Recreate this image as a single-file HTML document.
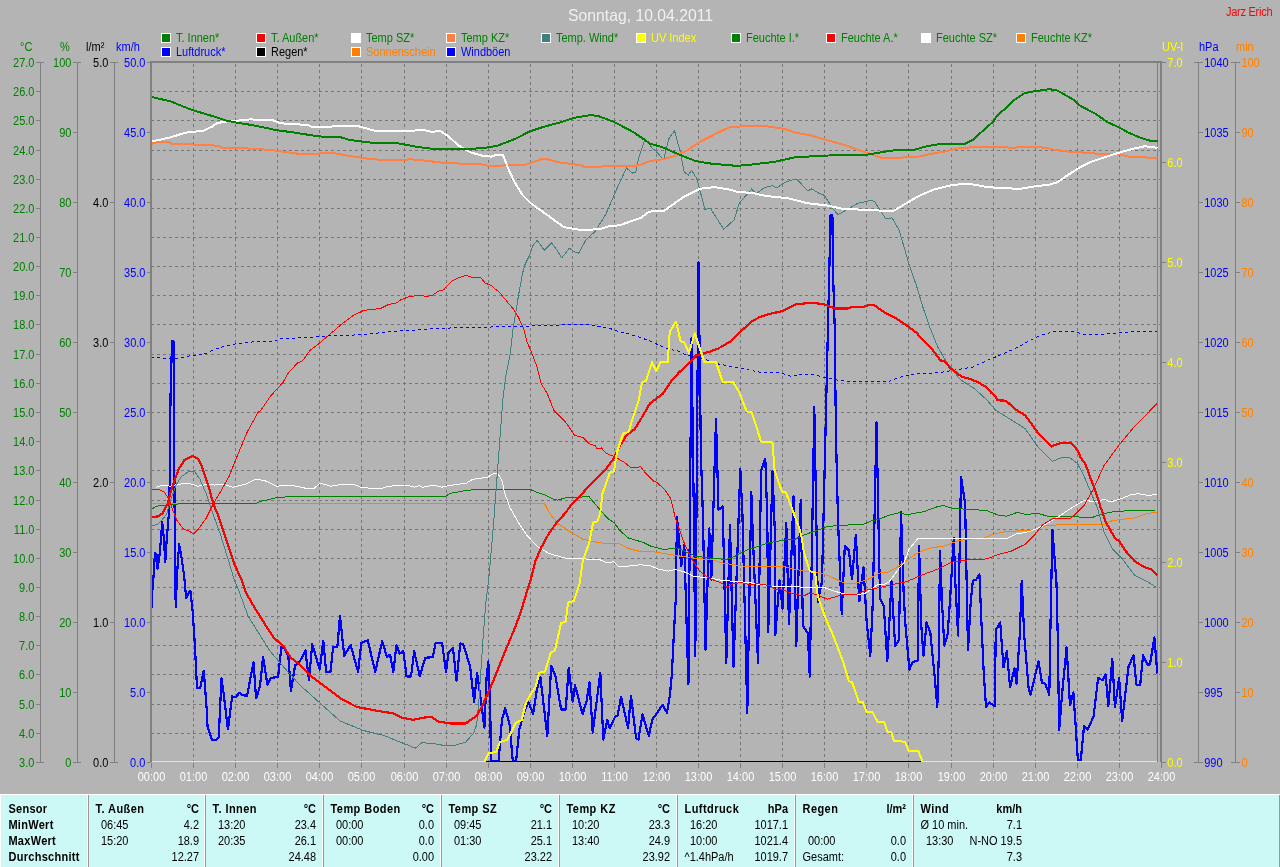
<!DOCTYPE html>
<html><head><meta charset="utf-8"><title>Wetter 10.04.2011</title>
<style>
html,body{margin:0;padding:0;}
body{width:1280px;height:867px;overflow:hidden;background:#b4b4b4;position:relative;font-family:'Liberation Sans', Arial, sans-serif;}
#chart{position:absolute;left:0;top:0;}
#tab{position:absolute;left:0;top:794px;width:1280px;height:73px;}
</style></head><body>
<svg id="chart" width="1280" height="794" viewBox="0 0 1280 794"><rect x="40" y="62" width="1" height="701" fill="#808080"/><rect x="77" y="62" width="1" height="701" fill="#808080"/><rect x="114" y="62" width="1" height="701" fill="#808080"/><rect x="1198" y="62" width="1" height="701" fill="#808080"/><rect x="1235" y="62" width="1" height="701" fill="#808080"/><rect x="36" y="62" width="8" height="1" fill="#808080"/><rect x="36" y="91" width="5" height="1" fill="#808080"/><rect x="36" y="120" width="5" height="1" fill="#808080"/><rect x="36" y="150" width="5" height="1" fill="#808080"/><rect x="36" y="179" width="5" height="1" fill="#808080"/><rect x="36" y="208" width="5" height="1" fill="#808080"/><rect x="36" y="237" width="5" height="1" fill="#808080"/><rect x="36" y="266" width="5" height="1" fill="#808080"/><rect x="36" y="295" width="5" height="1" fill="#808080"/><rect x="36" y="324" width="5" height="1" fill="#808080"/><rect x="36" y="354" width="5" height="1" fill="#808080"/><rect x="36" y="383" width="5" height="1" fill="#808080"/><rect x="36" y="412" width="5" height="1" fill="#808080"/><rect x="36" y="441" width="5" height="1" fill="#808080"/><rect x="36" y="470" width="5" height="1" fill="#808080"/><rect x="36" y="500" width="5" height="1" fill="#808080"/><rect x="36" y="529" width="5" height="1" fill="#808080"/><rect x="36" y="558" width="5" height="1" fill="#808080"/><rect x="36" y="587" width="5" height="1" fill="#808080"/><rect x="36" y="616" width="5" height="1" fill="#808080"/><rect x="36" y="645" width="5" height="1" fill="#808080"/><rect x="36" y="674" width="5" height="1" fill="#808080"/><rect x="36" y="704" width="5" height="1" fill="#808080"/><rect x="36" y="733" width="5" height="1" fill="#808080"/><rect x="36" y="762" width="8" height="1" fill="#808080"/><rect x="73" y="62" width="8" height="1" fill="#808080"/><rect x="73" y="132" width="5" height="1" fill="#808080"/><rect x="73" y="202" width="5" height="1" fill="#808080"/><rect x="73" y="272" width="5" height="1" fill="#808080"/><rect x="73" y="342" width="5" height="1" fill="#808080"/><rect x="73" y="412" width="5" height="1" fill="#808080"/><rect x="73" y="482" width="5" height="1" fill="#808080"/><rect x="73" y="552" width="5" height="1" fill="#808080"/><rect x="73" y="622" width="5" height="1" fill="#808080"/><rect x="73" y="692" width="5" height="1" fill="#808080"/><rect x="73" y="762" width="8" height="1" fill="#808080"/><rect x="110" y="62" width="8" height="1" fill="#808080"/><rect x="110" y="202" width="5" height="1" fill="#808080"/><rect x="110" y="342" width="5" height="1" fill="#808080"/><rect x="110" y="482" width="5" height="1" fill="#808080"/><rect x="110" y="622" width="5" height="1" fill="#808080"/><rect x="110" y="762" width="8" height="1" fill="#808080"/><rect x="147" y="62" width="4" height="1" fill="#808080"/><rect x="147" y="132" width="4" height="1" fill="#808080"/><rect x="147" y="202" width="4" height="1" fill="#808080"/><rect x="147" y="272" width="4" height="1" fill="#808080"/><rect x="147" y="342" width="4" height="1" fill="#808080"/><rect x="147" y="412" width="4" height="1" fill="#808080"/><rect x="147" y="482" width="4" height="1" fill="#808080"/><rect x="147" y="552" width="4" height="1" fill="#808080"/><rect x="147" y="622" width="4" height="1" fill="#808080"/><rect x="147" y="692" width="4" height="1" fill="#808080"/><rect x="147" y="762" width="4" height="1" fill="#808080"/><rect x="1161" y="62" width="5" height="1" fill="#808080"/><rect x="1161" y="162" width="5" height="1" fill="#808080"/><rect x="1161" y="262" width="5" height="1" fill="#808080"/><rect x="1161" y="362" width="5" height="1" fill="#808080"/><rect x="1161" y="462" width="5" height="1" fill="#808080"/><rect x="1161" y="562" width="5" height="1" fill="#808080"/><rect x="1161" y="662" width="5" height="1" fill="#808080"/><rect x="1161" y="762" width="5" height="1" fill="#808080"/><rect x="1194" y="62" width="9" height="1" fill="#808080"/><rect x="1198" y="132" width="5" height="1" fill="#808080"/><rect x="1198" y="202" width="5" height="1" fill="#808080"/><rect x="1198" y="272" width="5" height="1" fill="#808080"/><rect x="1198" y="342" width="5" height="1" fill="#808080"/><rect x="1198" y="412" width="5" height="1" fill="#808080"/><rect x="1198" y="482" width="5" height="1" fill="#808080"/><rect x="1198" y="552" width="5" height="1" fill="#808080"/><rect x="1198" y="622" width="5" height="1" fill="#808080"/><rect x="1198" y="692" width="5" height="1" fill="#808080"/><rect x="1194" y="762" width="9" height="1" fill="#808080"/><rect x="1231" y="62" width="9" height="1" fill="#808080"/><rect x="1235" y="132" width="5" height="1" fill="#808080"/><rect x="1235" y="202" width="5" height="1" fill="#808080"/><rect x="1235" y="272" width="5" height="1" fill="#808080"/><rect x="1235" y="342" width="5" height="1" fill="#808080"/><rect x="1235" y="412" width="5" height="1" fill="#808080"/><rect x="1235" y="482" width="5" height="1" fill="#808080"/><rect x="1235" y="552" width="5" height="1" fill="#808080"/><rect x="1235" y="622" width="5" height="1" fill="#808080"/><rect x="1235" y="692" width="5" height="1" fill="#808080"/><rect x="1231" y="762" width="9" height="1" fill="#808080"/><rect x="161.5" y="33.5" width="9" height="9" fill="#008000" stroke="#ffffff" stroke-width="1"/><rect x="256.5" y="33.5" width="9" height="9" fill="#ff0000" stroke="#ffffff" stroke-width="1"/><rect x="351.5" y="33.5" width="9" height="9" fill="#ffffff" stroke="#ffffff" stroke-width="1"/><rect x="446.5" y="33.5" width="9" height="9" fill="#ff8040" stroke="#ffffff" stroke-width="1"/><rect x="541.5" y="33.5" width="9" height="9" fill="#408080" stroke="#ffffff" stroke-width="1"/><rect x="636.5" y="33.5" width="9" height="9" fill="#ffff00" stroke="#ffffff" stroke-width="1"/><rect x="731.5" y="33.5" width="9" height="9" fill="#008000" stroke="#ffffff" stroke-width="1"/><rect x="826.5" y="33.5" width="9" height="9" fill="#ff0000" stroke="#ffffff" stroke-width="1"/><rect x="921.5" y="33.5" width="9" height="9" fill="#ffffff" stroke="#ffffff" stroke-width="1"/><rect x="1016.5" y="33.5" width="9" height="9" fill="#ff8000" stroke="#ffffff" stroke-width="1"/><rect x="161.5" y="47.5" width="9" height="9" fill="#0000ff" stroke="#ffffff" stroke-width="1"/><rect x="256.5" y="47.5" width="9" height="9" fill="#000000" stroke="#ffffff" stroke-width="1"/><rect x="351.5" y="47.5" width="9" height="9" fill="#ff8000" stroke="#ffffff" stroke-width="1"/><rect x="446.5" y="47.5" width="9" height="9" fill="#0000ff" stroke="#ffffff" stroke-width="1"/><rect x="151" y="763" width="1" height="5" fill="#808080"/><rect x="193" y="763" width="1" height="5" fill="#808080"/><rect x="235" y="763" width="1" height="5" fill="#808080"/><rect x="277" y="763" width="1" height="5" fill="#808080"/><rect x="319" y="763" width="1" height="5" fill="#808080"/><rect x="361" y="763" width="1" height="5" fill="#808080"/><rect x="404" y="763" width="1" height="5" fill="#808080"/><rect x="446" y="763" width="1" height="5" fill="#808080"/><rect x="488" y="763" width="1" height="5" fill="#808080"/><rect x="530" y="763" width="1" height="5" fill="#808080"/><rect x="572" y="763" width="1" height="5" fill="#808080"/><rect x="614" y="763" width="1" height="5" fill="#808080"/><rect x="656" y="763" width="1" height="5" fill="#808080"/><rect x="698" y="763" width="1" height="5" fill="#808080"/><rect x="740" y="763" width="1" height="5" fill="#808080"/><rect x="782" y="763" width="1" height="5" fill="#808080"/><rect x="824" y="763" width="1" height="5" fill="#808080"/><rect x="866" y="763" width="1" height="5" fill="#808080"/><rect x="908" y="763" width="1" height="5" fill="#808080"/><rect x="951" y="763" width="1" height="5" fill="#808080"/><rect x="993" y="763" width="1" height="5" fill="#808080"/><rect x="1035" y="763" width="1" height="5" fill="#808080"/><rect x="1077" y="763" width="1" height="5" fill="#808080"/><rect x="1119" y="763" width="1" height="5" fill="#808080"/><rect x="1161" y="763" width="1" height="5" fill="#808080"/><rect x="147" y="762" width="4" height="1" fill="#808080"/><rect x="1161" y="762" width="5" height="1" fill="#808080"/><g stroke="#767676" stroke-width="1" stroke-dasharray="3 3" shape-rendering="crispEdges"><line x1="151" y1="91.5" x2="1160" y2="91.5"/><line x1="151" y1="120.5" x2="1160" y2="120.5"/><line x1="151" y1="150.5" x2="1160" y2="150.5"/><line x1="151" y1="179.5" x2="1160" y2="179.5"/><line x1="151" y1="208.5" x2="1160" y2="208.5"/><line x1="151" y1="237.5" x2="1160" y2="237.5"/><line x1="151" y1="266.5" x2="1160" y2="266.5"/><line x1="151" y1="295.5" x2="1160" y2="295.5"/><line x1="151" y1="324.5" x2="1160" y2="324.5"/><line x1="151" y1="354.5" x2="1160" y2="354.5"/><line x1="151" y1="383.5" x2="1160" y2="383.5"/><line x1="151" y1="412.5" x2="1160" y2="412.5"/><line x1="151" y1="441.5" x2="1160" y2="441.5"/><line x1="151" y1="470.5" x2="1160" y2="470.5"/><line x1="151" y1="500.5" x2="1160" y2="500.5"/><line x1="151" y1="529.5" x2="1160" y2="529.5"/><line x1="151" y1="558.5" x2="1160" y2="558.5"/><line x1="151" y1="587.5" x2="1160" y2="587.5"/><line x1="151" y1="616.5" x2="1160" y2="616.5"/><line x1="151" y1="645.5" x2="1160" y2="645.5"/><line x1="151" y1="674.5" x2="1160" y2="674.5"/><line x1="151" y1="704.5" x2="1160" y2="704.5"/><line x1="151" y1="733.5" x2="1160" y2="733.5"/><line x1="193.5" y1="64" x2="193.5" y2="762"/><line x1="235.5" y1="64" x2="235.5" y2="762"/><line x1="277.5" y1="64" x2="277.5" y2="762"/><line x1="319.5" y1="64" x2="319.5" y2="762"/><line x1="361.5" y1="64" x2="361.5" y2="762"/><line x1="404.5" y1="64" x2="404.5" y2="762"/><line x1="446.5" y1="64" x2="446.5" y2="762"/><line x1="488.5" y1="64" x2="488.5" y2="762"/><line x1="530.5" y1="64" x2="530.5" y2="762"/><line x1="572.5" y1="64" x2="572.5" y2="762"/><line x1="614.5" y1="64" x2="614.5" y2="762"/><line x1="656.5" y1="64" x2="656.5" y2="762"/><line x1="698.5" y1="64" x2="698.5" y2="762"/><line x1="740.5" y1="64" x2="740.5" y2="762"/><line x1="782.5" y1="64" x2="782.5" y2="762"/><line x1="824.5" y1="64" x2="824.5" y2="762"/><line x1="866.5" y1="64" x2="866.5" y2="762"/><line x1="908.5" y1="64" x2="908.5" y2="762"/><line x1="951.5" y1="64" x2="951.5" y2="762"/><line x1="993.5" y1="64" x2="993.5" y2="762"/><line x1="1035.5" y1="64" x2="1035.5" y2="762"/><line x1="1077.5" y1="64" x2="1077.5" y2="762"/><line x1="1119.5" y1="64" x2="1119.5" y2="762"/></g><rect x="1157" y="62" width="1" height="700" fill="#808080"/><defs><clipPath id="pc"><rect x="152" y="63" width="1008" height="699"/></clipPath></defs><g clip-path="url(#pc)" fill="none" stroke-linejoin="round" stroke-linecap="butt" shape-rendering="crispEdges"><polyline points="151.5,608.4 152.3,591.1 154.0,570.3 154.9,553.0 156.7,554.8 157.5,568.6 159.2,558.2 161.0,539.2 162.2,521.9 163.6,535.7 165.3,561.7 166.7,539.2 168.8,515.0 169.6,487.3 170.5,397.5 172.0,341.0 173.5,341.0 174.0,408.0 174.8,539.2 175.7,606.7 177.1,573.8 177.8,563.4 179.1,544.4 180.9,553.0 184.3,577.3 186.1,598.0 188.7,592.8 190.4,591.1 192.1,606.7 192.7,612.0 194.8,644.0 197.0,687.8 200.2,687.8 203.8,670.7 206.6,708.1 207.6,727.3 211.9,739.7 216.2,739.7 218.7,737.5 221.5,678.2 223.6,693.1 227.9,729.4 232.2,696.3 235.4,697.4 239.6,692.7 242.9,695.3 247.1,695.7 253.5,662.2 256.1,698.5 259.9,686.7 263.1,656.8 267.4,684.6 270.6,677.8 278.1,677.1 281.3,647.2 284.5,648.3 288.3,655.8 290.9,691.0 295.1,665.4 299.4,662.2 305.4,650.4 309.0,680.3 312.2,644.0 319.7,669.6 323.3,640.8 326.1,671.8 330.4,671.8 333.1,647.2 337.4,646.6 340.0,615.9 344.2,655.8 350.6,645.1 358.1,671.8 361.3,643.0 367.7,640.2 375.2,671.8 382.2,641.3 386.9,656.8 390.1,654.7 393.3,671.8 396.5,645.1 399.7,653.6 403.3,651.2 406.6,676.4 411.0,676.4 414.2,651.2 419.7,676.4 425.2,657.8 432.9,657.1 435.5,643.1 442.1,643.1 446.0,672.0 448.6,652.3 453.0,647.9 456.5,680.8 460.3,643.5 463.1,644.0 470.1,666.5 474.1,701.6 477.1,673.1 480.0,693.9 484.4,727.9 486.5,678.6 488.3,661.5 490.3,711.5 490.9,761.0 498.6,761.0 501.9,720.2 505.2,708.2 509.6,724.6 512.8,761.0 516.1,761.0 519.4,729.0 523.8,713.7 528.2,701.6 533.2,713.7 536.9,689.6 540.4,677.2 547.3,736.0 551.2,665.7 555.4,676.1 561.1,709.5 565.7,709.5 568.7,668.0 572.7,701.5 575.0,685.3 582.6,714.1 586.5,701.5 589.5,681.9 592.7,732.6 600.3,672.6 603.3,739.5 607.3,719.9 609.6,728.0 615.3,716.4 617.6,715.3 621.1,696.8 628.0,728.0 631.0,695.7 636.1,738.4 638.4,739.5 642.5,714.1 648.8,736.0 652.2,719.9 662.6,704.9 666.9,712.7 669.8,696.1 671.8,674.5 673.7,637.3 675.7,600.0 677.0,517.0 681.2,566.0 684.3,545.0 688.4,684.3 691.5,338.0 693.6,497.0 695.3,655.9 698.5,262.0 700.9,453.6 703.0,518.0 705.5,650.0 709.2,528.4 711.3,579.5 716.0,419.3 718.5,509.7 722.7,506.6 726.3,662.7 730.0,525.3 733.5,666.7 740.3,469.2 742.4,513.8 747.3,712.7 751.3,492.0 752.8,534.6 758.0,662.7 761.1,470.2 765.3,458.8 767.3,518.0 768.2,632.4 772.5,471.3 774.6,526.3 775.3,635.3 779.5,580.0 782.5,608.8 786.3,523.0 789.0,624.5 793.5,496.0 796.3,646.1 800.7,500.0 802.9,625.5 807.8,633.3 809.8,676.5 814.3,407.0 817.8,602.3 822.0,581.5 830.6,215.0 832.4,215.0 833.0,271.0 834.6,324.0 836.0,437.0 838.0,520.0 841.7,613.7 844.8,546.2 848.9,550.4 852.0,579.5 855.8,534.6 859.3,601.3 863.5,567.0 866.6,621.0 870.3,655.9 872.8,602.3 876.5,422.0 880.0,598.2 883.8,606.5 887.3,660.8 891.5,581.5 895.1,646.1 899.0,640.2 901.0,511.8 903.8,597.3 905.5,625.7 909.4,669.6 912.7,661.8 917.6,660.8 919.1,546.4 921.3,625.7 923.5,655.9 926.6,622.5 930.4,633.3 934.4,674.0 937.3,706.9 938.8,654.2 940.0,551.2 942.1,603.8 944.3,645.5 947.6,634.5 949.8,603.8 953.8,538.0 955.3,582.0 958.1,635.6 961.0,476.7 965.1,503.0 968.0,649.9 970.6,603.8 972.8,580.8 976.1,579.7 979.4,574.2 981.6,625.7 983.8,674.0 986.0,706.8 989.2,702.4 994.7,706.4 995.8,630.1 1000.2,622.5 1003.5,667.4 1006.8,651.0 1010.1,687.1 1014.4,668.5 1016.6,683.8 1019.9,632.3 1021.7,580.8 1024.3,636.7 1028.7,689.3 1030.6,694.9 1038.5,661.1 1041.9,682.5 1045.3,683.6 1049.3,694.9 1050.2,639.8 1052.4,530.0 1056.5,583.5 1057.6,630.8 1059.2,729.8 1062.1,693.8 1066.6,647.6 1070.0,705.0 1073.4,692.6 1075.6,725.3 1077.9,760.0 1080.8,760.0 1084.0,726.4 1087.6,729.8 1093.6,716.3 1098.1,678.0 1102.6,680.3 1105.6,674.6 1108.3,706.1 1112.3,658.9 1115.0,707.3 1119.1,678.0 1122.2,720.8 1128.5,666.8 1133.5,655.1 1136.4,684.8 1140.2,684.8 1143.1,655.1 1147.6,664.5 1149.9,664.5 1154.4,637.5 1157.3,673.5" stroke="#0000ff" stroke-width="2.2"/><polyline points="151.0,503.2 544.3,503.2 549.5,513.2 557.8,523.6 570.3,531.9 582.8,539.1 599.4,542.9 620.1,543.9 628.5,548.5 640.9,551.6 650.0,551.2 670.8,554.7 691.5,557.8 712.3,559.9 722.7,563.0 743.5,566.1 782.9,566.1 795.4,569.3 805.8,571.3 821.9,573.2 832.3,577.4 840.6,581.5 846.8,583.6 853.1,584.0 861.4,581.5 867.6,579.5 873.8,576.3 880.1,572.8 886.3,572.8 895.0,568.7 906.0,561.0 916.9,553.4 927.9,548.6 945.4,545.7 956.4,541.4 967.3,539.2 982.7,538.5 993.6,534.1 1006.8,531.5 1030.0,530.4 1044.7,526.0 1062.3,524.5 1103.9,524.5 1112.7,520.5 1134.6,517.9 1147.7,513.5 1157.0,512.2" stroke="#ff8000" stroke-width="1"/><polyline points="151.0,509.7 156.2,506.3 162.5,505.5 170.8,504.3 183.2,503.8 255.9,503.4 260.1,501.3 268.4,499.7 276.7,497.6 291.2,496.6 445.7,496.2 449.8,493.5 466.5,490.3 483.1,489.3 529.8,489.3 537.1,492.4 545.4,495.1 553.7,499.3 557.8,500.1 566.1,497.6 578.6,497.2 589.0,496.6 599.4,509.0 607.7,518.4 613.9,522.5 620.1,530.8 628.5,538.1 643.0,542.3 651.3,546.4 664.5,549.5 670.8,548.5 677.0,547.9 687.4,552.6 695.7,556.2 712.3,558.3 726.8,559.5 735.2,556.2 745.5,550.6 758.0,546.4 768.4,542.9 782.9,540.2 795.4,539.1 803.7,535.0 816.1,530.8 826.5,526.7 836.9,525.6 863.9,524.2 872.2,520.5 878.5,519.4 888.8,515.3 899.2,512.6 908.1,515.0 912.5,513.5 923.5,511.8 936.6,507.0 943.2,505.6 952.0,508.0 960.7,508.9 973.9,509.6 987.0,510.7 998.0,515.0 1006.8,516.2 1017.7,512.2 1025.0,514.4 1038.1,513.5 1049.1,516.6 1093.0,517.2 1101.7,514.0 1112.7,511.8 1134.6,510.2 1157.0,510.0" stroke="#008000" stroke-width="1"/><polyline points="156.2,487.2 162.5,485.1 170.8,486.2 179.1,484.1 189.5,483.5 197.8,486.2 208.2,484.1 214.4,485.1 222.7,484.1 233.1,487.2 245.5,484.1 255.9,479.3 264.2,480.4 276.7,486.2 291.2,485.1 305.8,488.3 314.1,488.3 320.3,483.1 330.7,486.2 336.9,485.1 347.3,484.1 355.6,485.1 361.8,487.6 380.5,488.9 388.8,486.2 399.2,485.6 408.3,485.6 414.5,487.2 418.7,485.6 422.8,487.2 433.2,485.1 441.5,487.2 451.9,485.1 466.5,483.1 472.7,479.3 487.2,477.3 493.5,473.7 497.6,473.1 501.8,480.0 504.9,493.5 510.1,508.0 518.4,522.5 526.7,535.0 537.1,546.4 549.5,553.7 566.1,558.3 582.8,558.9 599.4,559.5 607.7,563.0 613.9,561.6 618.1,566.1 628.5,566.1 640.9,564.7 651.3,566.1 658.3,569.1 668.7,571.2 674.9,569.5 685.3,572.2 693.6,576.3 704.0,577.4 712.3,578.4 722.7,580.5 737.2,581.5 749.7,582.6 766.3,585.7 780.0,586.7 824.0,587.4 830.2,589.8 838.5,592.3 844.8,594.0 861.4,594.0 865.5,593.0 871.8,588.8 878.0,584.0 883.2,584.7 888.4,582.6 894.6,574.3 900.0,567.0 903.8,563.3 909.2,549.0 918.0,538.5 1006.8,538.5 1015.5,534.1 1030.0,531.5 1042.5,526.0 1057.9,517.2 1068.8,509.6 1084.2,500.4 1097.3,501.9 1103.9,499.1 1110.5,501.9 1121.4,498.6 1132.4,494.2 1139.0,493.8 1147.7,495.3 1157.0,494.7" stroke="#ffffff" stroke-width="1"/><polyline points="151.0,489.3 158.3,489.3 164.5,492.4 168.7,498.7 172.8,510.1 177.0,520.5 183.2,528.8 189.5,531.3 193.6,534.0 197.8,529.8 206.1,518.4 213.3,503.8 220.6,491.4 228.9,476.8 237.2,456.1 247.6,431.2 258.0,412.5 261.1,410.0 270.5,396.1 282.9,382.6 288.1,373.3 297.5,362.9 302.6,360.8 309.9,350.5 318.2,344.2 326.5,337.0 332.8,331.8 341.1,324.5 353.5,315.2 363.9,310.4 380.5,308.5 388.8,304.4 397.1,302.7 400.0,300.2 408.3,296.9 420.8,295.0 426.0,296.5 432.2,295.4 438.4,291.3 443.6,289.8 451.9,280.9 458.2,277.8 466.5,275.3 471.7,277.4 481.0,277.8 485.1,283.0 491.4,285.7 499.7,292.7 508.0,302.7 514.2,310.0 518.4,317.2 523.6,328.7 526.7,341.1 530.8,350.5 537.1,367.1 541.2,383.7 547.5,394.1 553.7,410.0 557.8,414.5 566.1,422.8 574.5,435.3 582.8,437.4 589.0,443.6 595.2,445.7 597.3,448.8 601.5,447.8 605.6,453.0 613.9,456.5 624.3,462.3 630.5,467.5 640.9,466.9 645.1,472.7 653.4,481.0 656.2,482.0 664.5,489.3 670.8,498.7 674.9,516.3 679.1,528.8 684.3,543.3 691.5,558.7 699.8,571.2 706.1,576.3 712.3,579.5 722.7,583.6 726.8,587.4 733.1,583.6 741.4,582.6 749.7,584.7 758.0,583.6 770.5,585.7 775.6,589.8 780.0,588.8 790.8,593.0 803.2,596.1 809.5,593.0 817.8,595.0 827.1,599.2 834.4,597.1 842.7,594.4 857.2,594.0 867.6,589.8 880.1,587.4 888.4,585.3 891.7,585.8 896.5,583.4 906.2,581.8 921.3,575.3 938.8,568.7 952.0,562.2 967.3,560.0 987.0,558.9 998.0,554.5 1011.2,551.2 1022.1,545.7 1025.0,544.6 1033.8,535.9 1042.5,524.9 1053.5,518.3 1071.0,518.3 1084.2,505.2 1092.9,489.9 1103.9,465.7 1119.2,444.9 1134.6,426.3 1147.7,413.1 1157.0,403.3" stroke="#ff0000" stroke-width="1"/><polyline points="151.0,525.6 157.3,524.6 161.4,520.5 166.6,514.2 170.8,499.7 176.0,485.1 181.2,476.8 188.4,471.7 194.7,471.7 199.8,478.9 206.1,493.5 212.3,512.1 220.6,535.0 228.9,562.0 234.3,580.0 239.6,592.8 248.2,616.3 258.9,633.4 269.5,650.4 282.3,665.4 299.4,684.6 320.8,703.8 340.0,720.9 363.4,730.5 384.8,735.8 400.0,742.1 408.8,745.4 415.3,748.3 421.9,742.6 435.1,743.9 443.8,745.4 454.8,745.4 465.7,742.1 473.4,733.4 476.7,724.6 478.9,700.5 481.1,667.6 483.3,634.8 485.9,601.9 488.7,580.0 493.5,524.6 496.6,483.1 499.7,441.5 502.8,400.0 505.9,375.4 510.1,354.6 513.2,327.6 516.3,308.9 519.4,290.2 522.5,273.6 524.6,265.3 529.8,254.9 532.9,245.6 537.1,240.4 544.3,250.1 551.6,242.9 556.8,249.7 561.6,258.0 569.3,248.3 574.5,251.8 578.6,253.3 585.9,240.0 595.2,231.3 605.6,214.7 616.0,190.8 626.4,168.0 632.6,173.2 635.7,172.1 638.8,157.6 644.0,142.0 647.1,141.0 652.3,148.3 656.2,151.4 663.5,159.7 668.7,138.9 674.5,130.6 680.1,151.4 684.3,172.1 688.4,175.3 691.5,170.1 696.7,178.4 705.0,209.5 710.2,207.9 723.7,229.3 734.1,219.9 739.3,203.3 751.8,188.8 755.9,194.0 764.2,187.7 772.5,185.6 776.7,187.7 785.0,182.5 793.3,179.4 797.5,180.0 807.8,190.8 812.0,188.8 818.2,192.9 824.5,195.4 832.8,208.5 838.0,214.7 847.3,209.5 857.7,203.3 870.1,200.6 874.3,201.2 879.5,209.5 885.7,218.9 892.0,217.8 899.2,230.3 909.3,265.3 916.6,286.1 922.8,306.8 929.1,325.5 937.4,346.3 945.7,360.8 960.2,379.5 974.8,388.9 987.2,400.3 995.5,410.0 1025.0,428.5 1038.1,447.1 1052.4,461.4 1060.1,458.1 1068.8,457.0 1077.6,463.6 1084.2,476.7 1090.7,492.0 1097.3,507.4 1103.9,531.5 1112.7,549.0 1121.4,557.8 1134.6,575.3 1147.7,581.9 1156.5,587.4" stroke="#408080" stroke-width="1"/><polyline points="151.0,357.1 164.5,358.1 177.0,358.3 191.5,355.6 204.0,354.2 212.3,350.5 222.7,346.7 237.2,343.6 249.7,342.1 274.6,341.1 278.8,339.0 305.8,337.6 322.4,336.3 336.9,335.5 357.7,334.9 374.3,333.4 399.2,330.9 420.8,329.7 441.5,328.2 483.1,327.2 524.6,326.2 576.5,324.5 584.8,323.9 591.1,325.5 607.7,327.6 616.0,330.7 628.5,333.8 643.0,338.4 650.0,341.1 668.7,349.4 677.0,350.5 685.3,354.6 708.2,360.4 718.5,364.0 739.3,368.1 760.1,372.3 778.8,372.3 791.2,376.4 799.5,374.3 812.0,374.3 824.5,377.5 836.9,380.0 857.7,382.0 888.8,381.6 897.1,377.9 914.5,373.9 937.4,372.9 954.0,370.2 972.7,367.1 987.2,360.4 1003.8,353.6 1016.3,348.0 1028.8,341.1 1041.2,334.9 1053.7,331.8 1072.4,331.3 1086.9,334.9 1107.7,333.8 1124.3,332.2 1157.0,331.3" stroke="#0000ff" stroke-width="1" stroke-dasharray="3 3"/><polyline points="152.0,143.7 158.3,141.6 168.7,142.2 172.8,144.1 202.0,144.7 218.5,145.8 222.7,147.9 255.9,148.7 274.6,150.5 299.5,153.9 318.2,153.9 322.4,152.6 332.8,153.0 353.5,156.6 368.0,158.6 382.6,160.1 400.0,160.1 410.4,159.3 420.8,160.1 441.5,162.6 456.1,163.4 481.0,164.3 489.3,165.9 524.6,164.9 532.9,162.2 543.3,158.6 549.5,159.7 557.8,162.2 570.3,163.8 580.7,165.3 584.8,167.0 597.3,167.0 607.7,165.9 634.7,165.9 640.9,164.5 650.0,161.1 662.5,159.3 674.9,156.0 687.4,150.3 699.8,142.0 714.4,134.4 728.9,127.5 745.5,126.0 768.4,126.5 785.0,129.0 795.4,132.7 809.9,135.2 826.5,140.0 845.2,145.2 857.7,149.7 870.1,153.9 882.6,158.2 900.0,157.6 916.6,157.0 931.2,153.9 945.7,151.4 956.1,148.7 972.7,147.2 1003.8,146.8 1012.1,148.1 1020.5,146.8 1045.4,147.6 1053.7,149.7 1066.1,151.4 1086.9,152.8 1099.4,153.9 1120.1,154.5 1128.5,156.6 1157.5,158.0" stroke="#ff8040" stroke-width="2"/><polyline points="152.0,141.4 170.8,137.3 185.3,132.7 204.0,130.6 212.3,126.5 216.5,123.3 224.8,121.7 235.2,120.9 249.7,119.4 272.5,120.2 280.8,123.3 307.8,125.0 312.0,126.9 357.7,126.0 374.3,130.6 400.0,131.2 412.5,130.6 424.9,130.2 431.2,131.7 440.5,131.2 447.8,135.8 458.2,145.2 470.6,152.4 483.1,156.0 491.4,156.6 497.6,154.5 502.8,154.5 508.0,168.0 514.2,181.5 522.5,195.0 530.8,203.3 545.4,213.7 564.0,227.2 580.7,229.9 599.4,229.3 607.7,226.6 620.1,225.1 640.9,217.8 649.2,211.6 664.5,210.6 683.2,197.1 699.8,188.8 714.4,187.1 731.0,189.8 737.2,191.9 751.8,192.9 766.3,196.0 787.1,198.1 807.8,203.3 826.5,205.4 841.1,208.5 857.7,209.5 893.0,211.2 900.0,207.0 918.7,196.0 933.2,189.8 949.8,185.6 962.3,184.0 974.8,184.6 987.2,187.1 1005.9,188.3 1020.5,188.8 1032.9,186.7 1049.5,184.6 1057.8,182.1 1066.1,176.3 1078.6,168.0 1091.1,161.8 1107.7,156.2 1120.1,152.4 1134.7,148.3 1145.1,146.2 1157.5,147.9" stroke="#ffffff" stroke-width="2"/><polyline points="152.0,97.0 170.8,101.5 191.5,109.8 212.3,116.0 224.8,120.2 235.2,122.3 253.8,125.4 276.7,130.2 295.4,132.7 318.2,136.4 341.0,137.3 349.4,140.0 374.3,143.0 399.2,143.5 416.6,146.8 433.2,148.9 462.3,148.9 483.1,148.3 497.6,145.6 516.3,138.5 528.8,131.7 543.3,126.9 562.0,121.9 574.5,117.7 591.0,115.0 599.4,116.5 613.9,121.9 632.6,131.7 645.0,140.0 650.0,143.7 662.5,147.2 679.1,154.5 695.7,161.1 712.3,163.8 737.2,165.9 751.8,164.5 774.6,161.8 795.4,157.2 828.6,155.5 868.1,154.5 888.8,151.0 900.0,149.7 914.5,149.7 927.0,146.2 939.5,144.1 964.4,144.1 972.7,140.0 983.1,130.6 993.5,121.3 996.6,116.1 1003.8,109.8 1012.1,101.5 1024.6,93.2 1035.0,91.2 1049.5,89.1 1057.8,90.7 1072.4,99.0 1080.7,106.1 1095.2,113.6 1107.7,122.3 1118.1,126.9 1128.5,132.7 1140.9,137.9 1151.3,141.0 1157.5,141.0" stroke="#008000" stroke-width="2"/><polyline points="151.0,517.3 158.3,516.3 162.5,513.2 167.7,503.8 170.8,491.4 175.0,478.9 179.1,468.5 184.3,460.2 192.6,456.1 197.8,458.6 201.9,466.5 208.2,485.1 213.3,503.8 218.5,516.3 226.8,541.2 235.2,566.1 241.8,580.0 246.0,592.8 254.6,607.7 265.3,624.8 273.8,637.6 283.4,646.2 290.9,657.9 299.4,664.3 312.2,677.1 320.8,683.5 333.6,693.1 342.1,699.5 357.0,707.0 376.3,710.6 393.3,713.4 401.9,717.7 413.1,719.8 419.7,718.5 428.5,716.9 432.9,717.6 437.2,721.3 450.4,723.5 465.7,723.5 470.1,720.2 476.7,715.8 482.2,706.0 487.6,693.9 494.2,678.6 500.8,662.2 507.4,645.7 513.9,630.4 520.5,612.9 527.1,591.0 530.8,580.0 535.0,562.0 541.2,547.5 547.5,536.0 555.8,523.6 566.1,512.1 570.3,505.9 578.6,497.6 586.9,488.3 595.2,480.0 605.6,469.6 613.9,458.2 620.1,445.7 626.4,435.3 634.7,429.1 643.0,415.6 650.0,403.4 662.5,394.1 670.8,381.6 679.1,372.3 688.4,364.0 695.7,355.6 710.2,351.5 718.5,348.4 731.0,341.1 739.3,332.8 751.8,321.4 760.1,316.8 770.5,313.7 782.9,311.0 795.4,304.4 812.0,302.7 824.5,304.4 834.8,308.5 847.3,308.5 853.5,306.8 864.0,306.8 870.1,304.8 874.3,305.2 884.7,312.7 897.1,318.9 908.3,326.6 916.6,332.8 920.8,338.0 931.2,348.0 940.5,360.4 944.7,361.3 950.9,368.7 962.3,377.0 970.6,379.1 978.9,382.6 987.2,387.8 991.4,393.0 995.5,396.1 997.6,400.3 1005.9,400.7 1016.3,410.0 1025.0,415.3 1031.6,424.1 1038.1,432.9 1051.3,446.5 1057.9,443.8 1064.4,442.7 1071.0,442.7 1077.6,450.4 1080.9,458.1 1085.3,463.6 1090.7,478.9 1095.1,489.9 1100.6,507.4 1106.1,522.7 1114.9,538.1 1119.2,541.4 1125.8,551.2 1134.6,561.1 1143.3,566.6 1152.1,569.8 1157.6,575.3" stroke="#ff0000" stroke-width="2.2"/><polyline points="151.0,761.5 1157.0,761.5" stroke="#000000" stroke-width="1.5"/><polyline points="151.0,761.5 484.4,761.5 488.7,753.1 496.4,752.0 499.7,742.1 507.4,739.9 511.7,731.2 516.1,722.4 521.6,720.2 526.0,702.7 531.5,692.8 535.8,686.5 539.2,672.6 545.0,671.5 550.8,652.6 554.9,650.7 561.1,623.0 565.7,621.9 568.1,602.3 573.8,601.1 579.6,583.8 582.8,561.0 589.0,543.3 593.1,522.5 597.3,521.5 600.4,512.1 602.5,493.5 609.8,472.7 613.9,471.7 617.0,451.9 623.3,433.2 628.5,432.2 632.6,418.7 638.8,400.0 641.9,382.6 646.1,380.6 652.1,362.1 656.2,371.5 660.4,362.1 667.7,362.1 669.7,332.0 676.0,321.7 680.7,341.4 684.3,342.4 689.0,352.8 694.7,333.1 704.4,362.1 716.0,362.1 722.7,381.9 733.1,381.9 739.3,392.3 746.6,411.4 751.8,412.5 761.1,441.5 772.5,442.6 774.6,470.6 781.9,491.4 786.0,492.4 793.3,512.1 799.5,528.8 801.6,537.1 803.7,551.6 809.9,571.3 815.1,572.4 817.8,596.0 825.0,616.8 832.3,633.5 842.7,660.5 848.9,681.2 852.0,682.0 858.8,701.6 862.7,702.0 866.7,711.8 872.5,712.2 877.5,721.6 884.3,722.0 887.3,731.8 891.2,732.4 894.1,741.2 904.9,741.6 908.8,751.4 918.6,751.4 922.5,761.5 1157.0,761.5" stroke="#ffff00" stroke-width="2"/></g><rect x="150" y="61" width="1012" height="2" fill="#808080"/><rect x="150" y="61" width="2" height="701" fill="#808080"/><rect x="1160" y="61" width="2" height="701" fill="#808080"/><g font-family="'Liberation Sans', Arial, sans-serif"><text transform="translate(34.4,66.5) scale(1,1.12)" fill="#008000" font-size="11" font-weight="normal" text-anchor="end">27.0</text><text transform="translate(34.4,95.5) scale(1,1.12)" fill="#008000" font-size="11" font-weight="normal" text-anchor="end">26.0</text><text transform="translate(34.4,124.5) scale(1,1.12)" fill="#008000" font-size="11" font-weight="normal" text-anchor="end">25.0</text><text transform="translate(34.4,154.5) scale(1,1.12)" fill="#008000" font-size="11" font-weight="normal" text-anchor="end">24.0</text><text transform="translate(34.4,183.5) scale(1,1.12)" fill="#008000" font-size="11" font-weight="normal" text-anchor="end">23.0</text><text transform="translate(34.4,212.5) scale(1,1.12)" fill="#008000" font-size="11" font-weight="normal" text-anchor="end">22.0</text><text transform="translate(34.4,241.5) scale(1,1.12)" fill="#008000" font-size="11" font-weight="normal" text-anchor="end">21.0</text><text transform="translate(34.4,270.5) scale(1,1.12)" fill="#008000" font-size="11" font-weight="normal" text-anchor="end">20.0</text><text transform="translate(34.4,299.5) scale(1,1.12)" fill="#008000" font-size="11" font-weight="normal" text-anchor="end">19.0</text><text transform="translate(34.4,328.5) scale(1,1.12)" fill="#008000" font-size="11" font-weight="normal" text-anchor="end">18.0</text><text transform="translate(34.4,358.5) scale(1,1.12)" fill="#008000" font-size="11" font-weight="normal" text-anchor="end">17.0</text><text transform="translate(34.4,387.5) scale(1,1.12)" fill="#008000" font-size="11" font-weight="normal" text-anchor="end">16.0</text><text transform="translate(34.4,416.5) scale(1,1.12)" fill="#008000" font-size="11" font-weight="normal" text-anchor="end">15.0</text><text transform="translate(34.4,445.5) scale(1,1.12)" fill="#008000" font-size="11" font-weight="normal" text-anchor="end">14.0</text><text transform="translate(34.4,474.5) scale(1,1.12)" fill="#008000" font-size="11" font-weight="normal" text-anchor="end">13.0</text><text transform="translate(34.4,504.5) scale(1,1.12)" fill="#008000" font-size="11" font-weight="normal" text-anchor="end">12.0</text><text transform="translate(34.4,533.5) scale(1,1.12)" fill="#008000" font-size="11" font-weight="normal" text-anchor="end">11.0</text><text transform="translate(34.4,562.5) scale(1,1.12)" fill="#008000" font-size="11" font-weight="normal" text-anchor="end">10.0</text><text transform="translate(34.4,591.5) scale(1,1.12)" fill="#008000" font-size="11" font-weight="normal" text-anchor="end">9.0</text><text transform="translate(34.4,620.5) scale(1,1.12)" fill="#008000" font-size="11" font-weight="normal" text-anchor="end">8.0</text><text transform="translate(34.4,649.5) scale(1,1.12)" fill="#008000" font-size="11" font-weight="normal" text-anchor="end">7.0</text><text transform="translate(34.4,678.5) scale(1,1.12)" fill="#008000" font-size="11" font-weight="normal" text-anchor="end">6.0</text><text transform="translate(34.4,708.5) scale(1,1.12)" fill="#008000" font-size="11" font-weight="normal" text-anchor="end">5.0</text><text transform="translate(34.4,737.5) scale(1,1.12)" fill="#008000" font-size="11" font-weight="normal" text-anchor="end">4.0</text><text transform="translate(34.4,766.5) scale(1,1.12)" fill="#008000" font-size="11" font-weight="normal" text-anchor="end">3.0</text><text transform="translate(71.4,66.5) scale(1,1.12)" fill="#008000" font-size="11" font-weight="normal" text-anchor="end">100</text><text transform="translate(71.4,136.5) scale(1,1.12)" fill="#008000" font-size="11" font-weight="normal" text-anchor="end">90</text><text transform="translate(71.4,206.5) scale(1,1.12)" fill="#008000" font-size="11" font-weight="normal" text-anchor="end">80</text><text transform="translate(71.4,276.5) scale(1,1.12)" fill="#008000" font-size="11" font-weight="normal" text-anchor="end">70</text><text transform="translate(71.4,346.5) scale(1,1.12)" fill="#008000" font-size="11" font-weight="normal" text-anchor="end">60</text><text transform="translate(71.4,416.5) scale(1,1.12)" fill="#008000" font-size="11" font-weight="normal" text-anchor="end">50</text><text transform="translate(71.4,486.5) scale(1,1.12)" fill="#008000" font-size="11" font-weight="normal" text-anchor="end">40</text><text transform="translate(71.4,556.5) scale(1,1.12)" fill="#008000" font-size="11" font-weight="normal" text-anchor="end">30</text><text transform="translate(71.4,626.5) scale(1,1.12)" fill="#008000" font-size="11" font-weight="normal" text-anchor="end">20</text><text transform="translate(71.4,696.5) scale(1,1.12)" fill="#008000" font-size="11" font-weight="normal" text-anchor="end">10</text><text transform="translate(71.4,766.5) scale(1,1.12)" fill="#008000" font-size="11" font-weight="normal" text-anchor="end">0</text><text transform="translate(108.4,66.5) scale(1,1.12)" fill="#000000" font-size="11" font-weight="normal" text-anchor="end">5.0</text><text transform="translate(108.4,206.5) scale(1,1.12)" fill="#000000" font-size="11" font-weight="normal" text-anchor="end">4.0</text><text transform="translate(108.4,346.5) scale(1,1.12)" fill="#000000" font-size="11" font-weight="normal" text-anchor="end">3.0</text><text transform="translate(108.4,486.5) scale(1,1.12)" fill="#000000" font-size="11" font-weight="normal" text-anchor="end">2.0</text><text transform="translate(108.4,626.5) scale(1,1.12)" fill="#000000" font-size="11" font-weight="normal" text-anchor="end">1.0</text><text transform="translate(108.4,766.5) scale(1,1.12)" fill="#000000" font-size="11" font-weight="normal" text-anchor="end">0.0</text><text transform="translate(145.4,66.5) scale(1,1.12)" fill="#0000ff" font-size="11" font-weight="normal" text-anchor="end">50.0</text><text transform="translate(145.4,136.5) scale(1,1.12)" fill="#0000ff" font-size="11" font-weight="normal" text-anchor="end">45.0</text><text transform="translate(145.4,206.5) scale(1,1.12)" fill="#0000ff" font-size="11" font-weight="normal" text-anchor="end">40.0</text><text transform="translate(145.4,276.5) scale(1,1.12)" fill="#0000ff" font-size="11" font-weight="normal" text-anchor="end">35.0</text><text transform="translate(145.4,346.5) scale(1,1.12)" fill="#0000ff" font-size="11" font-weight="normal" text-anchor="end">30.0</text><text transform="translate(145.4,416.5) scale(1,1.12)" fill="#0000ff" font-size="11" font-weight="normal" text-anchor="end">25.0</text><text transform="translate(145.4,486.5) scale(1,1.12)" fill="#0000ff" font-size="11" font-weight="normal" text-anchor="end">20.0</text><text transform="translate(145.4,556.5) scale(1,1.12)" fill="#0000ff" font-size="11" font-weight="normal" text-anchor="end">15.0</text><text transform="translate(145.4,626.5) scale(1,1.12)" fill="#0000ff" font-size="11" font-weight="normal" text-anchor="end">10.0</text><text transform="translate(145.4,696.5) scale(1,1.12)" fill="#0000ff" font-size="11" font-weight="normal" text-anchor="end">5.0</text><text transform="translate(145.4,766.5) scale(1,1.12)" fill="#0000ff" font-size="11" font-weight="normal" text-anchor="end">0.0</text><text transform="translate(1167.3,66.5) scale(1,1.12)" fill="#ffff00" font-size="11" font-weight="normal" text-anchor="start">7.0</text><text transform="translate(1167.3,166.5) scale(1,1.12)" fill="#ffff00" font-size="11" font-weight="normal" text-anchor="start">6.0</text><text transform="translate(1167.3,266.5) scale(1,1.12)" fill="#ffff00" font-size="11" font-weight="normal" text-anchor="start">5.0</text><text transform="translate(1167.3,366.5) scale(1,1.12)" fill="#ffff00" font-size="11" font-weight="normal" text-anchor="start">4.0</text><text transform="translate(1167.3,466.5) scale(1,1.12)" fill="#ffff00" font-size="11" font-weight="normal" text-anchor="start">3.0</text><text transform="translate(1167.3,566.5) scale(1,1.12)" fill="#ffff00" font-size="11" font-weight="normal" text-anchor="start">2.0</text><text transform="translate(1167.3,666.5) scale(1,1.12)" fill="#ffff00" font-size="11" font-weight="normal" text-anchor="start">1.0</text><text transform="translate(1167.3,766.5) scale(1,1.12)" fill="#ffff00" font-size="11" font-weight="normal" text-anchor="start">0.0</text><text transform="translate(1204.2,66.5) scale(1,1.12)" fill="#0000ff" font-size="11" font-weight="normal" text-anchor="start">1040</text><text transform="translate(1204.2,136.5) scale(1,1.12)" fill="#0000ff" font-size="11" font-weight="normal" text-anchor="start">1035</text><text transform="translate(1204.2,206.5) scale(1,1.12)" fill="#0000ff" font-size="11" font-weight="normal" text-anchor="start">1030</text><text transform="translate(1204.2,276.5) scale(1,1.12)" fill="#0000ff" font-size="11" font-weight="normal" text-anchor="start">1025</text><text transform="translate(1204.2,346.5) scale(1,1.12)" fill="#0000ff" font-size="11" font-weight="normal" text-anchor="start">1020</text><text transform="translate(1204.2,416.5) scale(1,1.12)" fill="#0000ff" font-size="11" font-weight="normal" text-anchor="start">1015</text><text transform="translate(1204.2,486.5) scale(1,1.12)" fill="#0000ff" font-size="11" font-weight="normal" text-anchor="start">1010</text><text transform="translate(1204.2,556.5) scale(1,1.12)" fill="#0000ff" font-size="11" font-weight="normal" text-anchor="start">1005</text><text transform="translate(1204.2,626.5) scale(1,1.12)" fill="#0000ff" font-size="11" font-weight="normal" text-anchor="start">1000</text><text transform="translate(1204.2,696.5) scale(1,1.12)" fill="#0000ff" font-size="11" font-weight="normal" text-anchor="start">995</text><text transform="translate(1204.2,766.5) scale(1,1.12)" fill="#0000ff" font-size="11" font-weight="normal" text-anchor="start">990</text><text transform="translate(1241.4,66.5) scale(1,1.12)" fill="#ff8000" font-size="11" font-weight="normal" text-anchor="start">100</text><text transform="translate(1241.4,136.5) scale(1,1.12)" fill="#ff8000" font-size="11" font-weight="normal" text-anchor="start">90</text><text transform="translate(1241.4,206.5) scale(1,1.12)" fill="#ff8000" font-size="11" font-weight="normal" text-anchor="start">80</text><text transform="translate(1241.4,276.5) scale(1,1.12)" fill="#ff8000" font-size="11" font-weight="normal" text-anchor="start">70</text><text transform="translate(1241.4,346.5) scale(1,1.12)" fill="#ff8000" font-size="11" font-weight="normal" text-anchor="start">60</text><text transform="translate(1241.4,416.5) scale(1,1.12)" fill="#ff8000" font-size="11" font-weight="normal" text-anchor="start">50</text><text transform="translate(1241.4,486.5) scale(1,1.12)" fill="#ff8000" font-size="11" font-weight="normal" text-anchor="start">40</text><text transform="translate(1241.4,556.5) scale(1,1.12)" fill="#ff8000" font-size="11" font-weight="normal" text-anchor="start">30</text><text transform="translate(1241.4,626.5) scale(1,1.12)" fill="#ff8000" font-size="11" font-weight="normal" text-anchor="start">20</text><text transform="translate(1241.4,696.5) scale(1,1.12)" fill="#ff8000" font-size="11" font-weight="normal" text-anchor="start">10</text><text transform="translate(1241.4,766.5) scale(1,1.12)" fill="#ff8000" font-size="11" font-weight="normal" text-anchor="start">0</text><text transform="translate(20,50.5) scale(1,1.12)" fill="#008000" font-size="11" font-weight="normal" text-anchor="start">&#176;C</text><text transform="translate(60,50.5) scale(1,1.12)" fill="#008000" font-size="11" font-weight="normal" text-anchor="start">%</text><text transform="translate(86,50.5) scale(1,1.12)" fill="#000000" font-size="11" font-weight="normal" text-anchor="start">l/m&#178;</text><text transform="translate(116,50.5) scale(1,1.12)" fill="#0000ff" font-size="11" font-weight="normal" text-anchor="start">km/h</text><text transform="translate(1162,50.5) scale(1,1.12)" fill="#ffff00" font-size="11" font-weight="normal" text-anchor="start">UV-I</text><text transform="translate(1199,50.5) scale(1,1.12)" fill="#0000ff" font-size="11" font-weight="normal" text-anchor="start">hPa</text><text transform="translate(1236,50.5) scale(1,1.12)" fill="#ff8000" font-size="11" font-weight="normal" text-anchor="start">min</text><text transform="translate(568,21) scale(1,1.06)" fill="#f0f0f0" font-size="15.75" font-weight="normal" text-anchor="start">Sonntag, 10.04.2011</text><text transform="translate(1226,15.8) scale(1,1.12)" fill="#ff0000" font-size="11" font-weight="normal" text-anchor="start" letter-spacing="-0.25">Jarz Erich</text><text transform="translate(176,42) scale(1,1.12)" fill="#008000" font-size="11" font-weight="normal" text-anchor="start">T. Innen*</text><text transform="translate(271,42) scale(1,1.12)" fill="#008000" font-size="11" font-weight="normal" text-anchor="start">T. Au&#223;en*</text><text transform="translate(366,42) scale(1,1.12)" fill="#008000" font-size="11" font-weight="normal" text-anchor="start">Temp SZ*</text><text transform="translate(461,42) scale(1,1.12)" fill="#008000" font-size="11" font-weight="normal" text-anchor="start">Temp KZ*</text><text transform="translate(556,42) scale(1,1.12)" fill="#008000" font-size="11" font-weight="normal" text-anchor="start">Temp. Wind*</text><text transform="translate(651,42) scale(1,1.12)" fill="#ffff00" font-size="11" font-weight="normal" text-anchor="start">UV Index</text><text transform="translate(746,42) scale(1,1.12)" fill="#008000" font-size="11" font-weight="normal" text-anchor="start">Feuchte I.*</text><text transform="translate(841,42) scale(1,1.12)" fill="#008000" font-size="11" font-weight="normal" text-anchor="start">Feuchte A.*</text><text transform="translate(936,42) scale(1,1.12)" fill="#008000" font-size="11" font-weight="normal" text-anchor="start">Feuchte SZ*</text><text transform="translate(1031,42) scale(1,1.12)" fill="#008000" font-size="11" font-weight="normal" text-anchor="start">Feuchte KZ*</text><text transform="translate(176,56) scale(1,1.12)" fill="#0000ff" font-size="11" font-weight="normal" text-anchor="start">Luftdruck*</text><text transform="translate(271,56) scale(1,1.12)" fill="#000000" font-size="11" font-weight="normal" text-anchor="start">Regen*</text><text transform="translate(366,56) scale(1,1.12)" fill="#ff8000" font-size="11" font-weight="normal" text-anchor="start">Sonnenschein</text><text transform="translate(461,56) scale(1,1.12)" fill="#0000ff" font-size="11" font-weight="normal" text-anchor="start">Windb&#246;en</text><text transform="translate(151.5,781) scale(1,1.12)" fill="#ffffff" font-size="11" font-weight="normal" text-anchor="middle">00:00</text><text transform="translate(193.5,781) scale(1,1.12)" fill="#ffffff" font-size="11" font-weight="normal" text-anchor="middle">01:00</text><text transform="translate(235.5,781) scale(1,1.12)" fill="#ffffff" font-size="11" font-weight="normal" text-anchor="middle">02:00</text><text transform="translate(277.5,781) scale(1,1.12)" fill="#ffffff" font-size="11" font-weight="normal" text-anchor="middle">03:00</text><text transform="translate(319.5,781) scale(1,1.12)" fill="#ffffff" font-size="11" font-weight="normal" text-anchor="middle">04:00</text><text transform="translate(361.5,781) scale(1,1.12)" fill="#ffffff" font-size="11" font-weight="normal" text-anchor="middle">05:00</text><text transform="translate(404.5,781) scale(1,1.12)" fill="#ffffff" font-size="11" font-weight="normal" text-anchor="middle">06:00</text><text transform="translate(446.5,781) scale(1,1.12)" fill="#ffffff" font-size="11" font-weight="normal" text-anchor="middle">07:00</text><text transform="translate(488.5,781) scale(1,1.12)" fill="#ffffff" font-size="11" font-weight="normal" text-anchor="middle">08:00</text><text transform="translate(530.5,781) scale(1,1.12)" fill="#ffffff" font-size="11" font-weight="normal" text-anchor="middle">09:00</text><text transform="translate(572.5,781) scale(1,1.12)" fill="#ffffff" font-size="11" font-weight="normal" text-anchor="middle">10:00</text><text transform="translate(614.5,781) scale(1,1.12)" fill="#ffffff" font-size="11" font-weight="normal" text-anchor="middle">11:00</text><text transform="translate(656.5,781) scale(1,1.12)" fill="#ffffff" font-size="11" font-weight="normal" text-anchor="middle">12:00</text><text transform="translate(698.5,781) scale(1,1.12)" fill="#ffffff" font-size="11" font-weight="normal" text-anchor="middle">13:00</text><text transform="translate(740.5,781) scale(1,1.12)" fill="#ffffff" font-size="11" font-weight="normal" text-anchor="middle">14:00</text><text transform="translate(782.5,781) scale(1,1.12)" fill="#ffffff" font-size="11" font-weight="normal" text-anchor="middle">15:00</text><text transform="translate(824.5,781) scale(1,1.12)" fill="#ffffff" font-size="11" font-weight="normal" text-anchor="middle">16:00</text><text transform="translate(866.5,781) scale(1,1.12)" fill="#ffffff" font-size="11" font-weight="normal" text-anchor="middle">17:00</text><text transform="translate(908.5,781) scale(1,1.12)" fill="#ffffff" font-size="11" font-weight="normal" text-anchor="middle">18:00</text><text transform="translate(951.5,781) scale(1,1.12)" fill="#ffffff" font-size="11" font-weight="normal" text-anchor="middle">19:00</text><text transform="translate(993.5,781) scale(1,1.12)" fill="#ffffff" font-size="11" font-weight="normal" text-anchor="middle">20:00</text><text transform="translate(1035.5,781) scale(1,1.12)" fill="#ffffff" font-size="11" font-weight="normal" text-anchor="middle">21:00</text><text transform="translate(1077.5,781) scale(1,1.12)" fill="#ffffff" font-size="11" font-weight="normal" text-anchor="middle">22:00</text><text transform="translate(1119.5,781) scale(1,1.12)" fill="#ffffff" font-size="11" font-weight="normal" text-anchor="middle">23:00</text><text transform="translate(1161.5,781) scale(1,1.12)" fill="#ffffff" font-size="11" font-weight="normal" text-anchor="middle">24:00</text></g></svg>
<svg id="tab" width="1280" height="73" viewBox="0 794 1280 73">
<rect x="0" y="794" width="1280" height="73" fill="#ccf9f5"/>
<rect x="0" y="794" width="1280" height="1" fill="#ffffff"/>
<rect x="0" y="794" width="1" height="73" fill="#ffffff"/>
<rect x="1279" y="795" width="1" height="72" fill="#a0988c"/>
<g font-family="'Liberation Sans', Arial, sans-serif" font-size="11" fill="#000000"><text transform="translate(8.4,813) scale(1,1.1)" font-weight="bold" letter-spacing="0.3">Sensor</text><text transform="translate(8.4,829) scale(1,1.1)" font-weight="bold" letter-spacing="0.3">MinWert</text><text transform="translate(8.4,845) scale(1,1.1)" font-weight="bold" letter-spacing="0.3">MaxWert</text><text transform="translate(8.4,861) scale(1,1.1)" font-weight="bold" letter-spacing="0.3">Durchschnitt</text><rect x="87" y="795" width="1" height="72" fill="#ffffff"/><rect x="88" y="795" width="1" height="72" fill="#a0988c"/><text transform="translate(95.5,813) scale(1,1.1)" font-weight="bold" letter-spacing="0.45">T. Au&#223;en</text><text transform="translate(199,813) scale(1,1.1)" font-weight="bold" text-anchor="end">&#176;C</text><text transform="translate(101,829) scale(1,1.12)">06:45</text><text transform="translate(199,829) scale(1,1.12)" text-anchor="end">4.2</text><text transform="translate(101,845) scale(1,1.12)">15:20</text><text transform="translate(199,845) scale(1,1.12)" text-anchor="end">18.9</text><text transform="translate(199,861) scale(1,1.12)" text-anchor="end">12.27</text><rect x="204" y="795" width="1" height="72" fill="#ffffff"/><rect x="205" y="795" width="1" height="72" fill="#a0988c"/><text transform="translate(212.5,813) scale(1,1.1)" font-weight="bold" letter-spacing="0.45">T. Innen</text><text transform="translate(316,813) scale(1,1.1)" font-weight="bold" text-anchor="end">&#176;C</text><text transform="translate(218,829) scale(1,1.12)">13:20</text><text transform="translate(316,829) scale(1,1.12)" text-anchor="end">23.4</text><text transform="translate(218,845) scale(1,1.12)">20:35</text><text transform="translate(316,845) scale(1,1.12)" text-anchor="end">26.1</text><text transform="translate(316,861) scale(1,1.12)" text-anchor="end">24.48</text><rect x="322" y="795" width="1" height="72" fill="#ffffff"/><rect x="323" y="795" width="1" height="72" fill="#a0988c"/><text transform="translate(330.5,813) scale(1,1.1)" font-weight="bold" letter-spacing="0.45">Temp Boden</text><text transform="translate(434,813) scale(1,1.1)" font-weight="bold" text-anchor="end">&#176;C</text><text transform="translate(336,829) scale(1,1.12)">00:00</text><text transform="translate(434,829) scale(1,1.12)" text-anchor="end">0.0</text><text transform="translate(336,845) scale(1,1.12)">00:00</text><text transform="translate(434,845) scale(1,1.12)" text-anchor="end">0.0</text><text transform="translate(434,861) scale(1,1.12)" text-anchor="end">0.00</text><rect x="440" y="795" width="1" height="72" fill="#ffffff"/><rect x="441" y="795" width="1" height="72" fill="#a0988c"/><text transform="translate(448.5,813) scale(1,1.1)" font-weight="bold" letter-spacing="0.45">Temp SZ</text><text transform="translate(552,813) scale(1,1.1)" font-weight="bold" text-anchor="end">&#176;C</text><text transform="translate(454,829) scale(1,1.12)">09:45</text><text transform="translate(552,829) scale(1,1.12)" text-anchor="end">21.1</text><text transform="translate(454,845) scale(1,1.12)">01:30</text><text transform="translate(552,845) scale(1,1.12)" text-anchor="end">25.1</text><text transform="translate(552,861) scale(1,1.12)" text-anchor="end">23.22</text><rect x="558" y="795" width="1" height="72" fill="#ffffff"/><rect x="559" y="795" width="1" height="72" fill="#a0988c"/><text transform="translate(566.5,813) scale(1,1.1)" font-weight="bold" letter-spacing="0.45">Temp KZ</text><text transform="translate(670,813) scale(1,1.1)" font-weight="bold" text-anchor="end">&#176;C</text><text transform="translate(572,829) scale(1,1.12)">10:20</text><text transform="translate(670,829) scale(1,1.12)" text-anchor="end">23.3</text><text transform="translate(572,845) scale(1,1.12)">13:40</text><text transform="translate(670,845) scale(1,1.12)" text-anchor="end">24.9</text><text transform="translate(670,861) scale(1,1.12)" text-anchor="end">23.92</text><rect x="676" y="795" width="1" height="72" fill="#ffffff"/><rect x="677" y="795" width="1" height="72" fill="#a0988c"/><text transform="translate(684.5,813) scale(1,1.1)" font-weight="bold" letter-spacing="0.45">Luftdruck</text><text transform="translate(788,813) scale(1,1.1)" font-weight="bold" text-anchor="end">hPa</text><text transform="translate(690,829) scale(1,1.12)">16:20</text><text transform="translate(788,829) scale(1,1.12)" text-anchor="end">1017.1</text><text transform="translate(690,845) scale(1,1.12)">10:00</text><text transform="translate(788,845) scale(1,1.12)" text-anchor="end">1021.4</text><text transform="translate(684.5,861) scale(1,1.12)">^1.4hPa/h</text><text transform="translate(788,861) scale(1,1.12)" text-anchor="end">1019.7</text><rect x="794" y="795" width="1" height="72" fill="#ffffff"/><rect x="795" y="795" width="1" height="72" fill="#a0988c"/><text transform="translate(802.5,813) scale(1,1.1)" font-weight="bold" letter-spacing="0.45">Regen</text><text transform="translate(906,813) scale(1,1.1)" font-weight="bold" text-anchor="end">l/m&#178;</text><text transform="translate(808,845) scale(1,1.12)">00:00</text><text transform="translate(906,845) scale(1,1.12)" text-anchor="end">0.0</text><text transform="translate(802.5,861) scale(1,1.12)">Gesamt:</text><text transform="translate(906,861) scale(1,1.12)" text-anchor="end">0.0</text><rect x="912" y="795" width="1" height="72" fill="#ffffff"/><rect x="913" y="795" width="1" height="72" fill="#a0988c"/><text transform="translate(920.5,813) scale(1,1.1)" font-weight="bold" letter-spacing="0.45">Wind</text><text transform="translate(1022,813) scale(1,1.1)" font-weight="bold" text-anchor="end">km/h</text><text transform="translate(920.5,829) scale(1,1.12)">&#216; 10 min.</text><text transform="translate(1022,829) scale(1,1.12)" text-anchor="end">7.1</text><text transform="translate(926,845) scale(1,1.12)">13:30</text><text transform="translate(1022,845) scale(1,1.12)" text-anchor="end">N-NO 19.5</text><text transform="translate(1022,861) scale(1,1.12)" text-anchor="end">7.3</text></g>
</svg>
</body></html>
